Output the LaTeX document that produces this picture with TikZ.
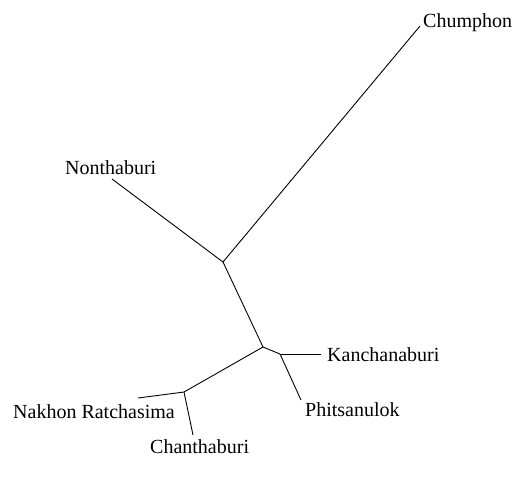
\documentclass[tikz,border=0pt]{standalone}
\usepackage{fontspec}
\setmainfont{Liberation Serif}
\begin{document}
\begin{tikzpicture}[x=1pt,y=-1pt,
  edge/.style={draw=black,line width=0.9pt},
  leaf/.style={anchor=base west,inner sep=0pt,font=\fontsize{20}{24}\selectfont}]
\useasboundingbox (0,0) rectangle (513,477);
% internal vertices of the unrooted tree
\coordinate (a) at (223,262);
\coordinate (b) at (263,347);
\coordinate (c) at (280,354);
\coordinate (d) at (184,392);
% leaf tips
\coordinate (tChu) at (420,26);
\coordinate (tNon) at (112,179);
\coordinate (tKan) at (321,354);
\coordinate (tPhi) at (301,400);
\coordinate (tNak) at (138,398);
\coordinate (tCha) at (193,435);
% labels
\node[leaf] (Chu) at (423,27) {Chumphon};
\node[leaf] (Non) at (65,174) {Nonthaburi};
\node[leaf] (Kan) at (327,361) {Kanchanaburi};
\node[leaf] (Phi) at (305,416) {Phitsanulok};
\node[leaf] (Nak) at (13,418) {Nakhon Ratchasima};
\node[leaf] (Cha) at (150,453) {Chanthaburi};
% branches
\draw[edge] (a) -- (tChu);
\draw[edge] (a) -- (tNon);
\draw[edge] (a) -- (b);
\draw[edge] (b) -- (c);
\draw[edge] (c) -- (tKan);
\draw[edge] (c) -- (tPhi);
\draw[edge] (b) -- (d);
\draw[edge] (d) -- (tNak);
\draw[edge] (d) -- (tCha);
\end{tikzpicture}
\end{document}
